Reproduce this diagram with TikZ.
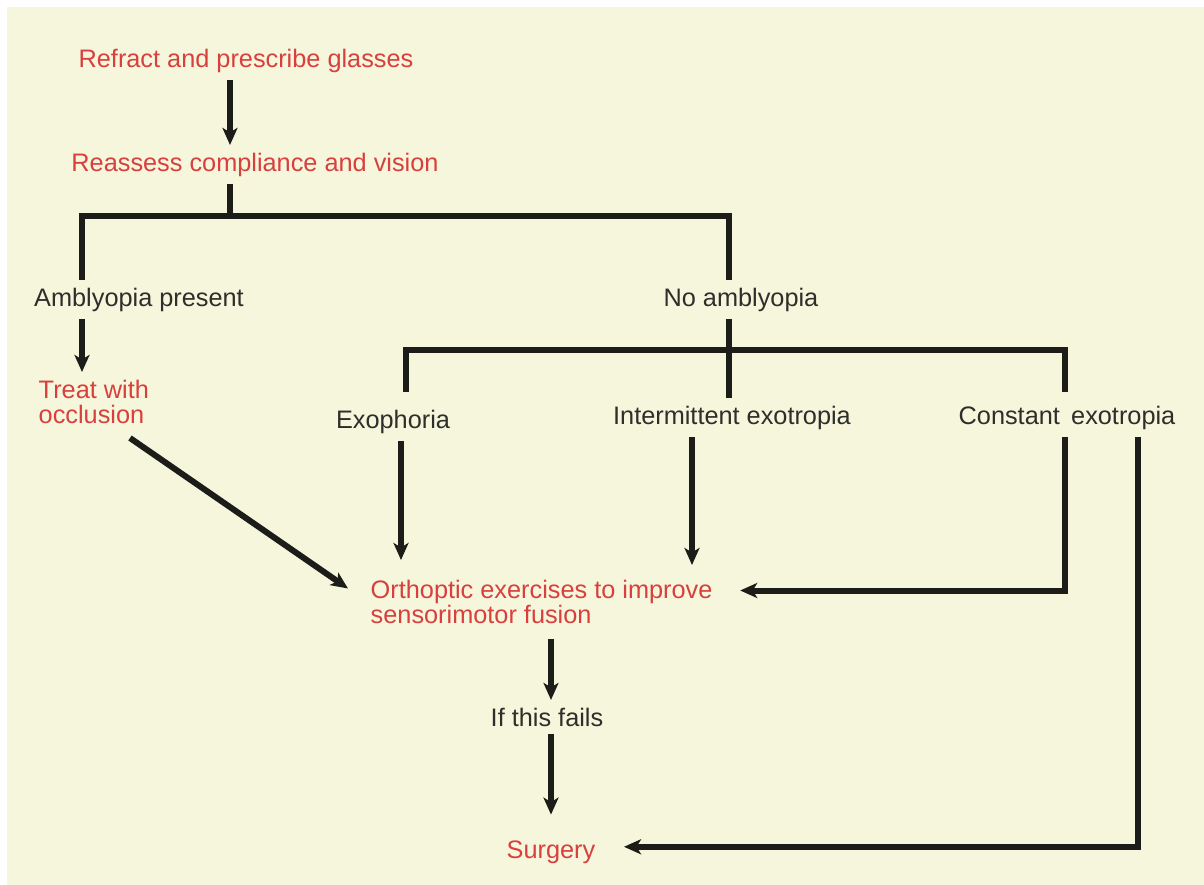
\documentclass[tikz,border=0pt]{standalone}
\usepackage{fontspec}
\setmainfont{Liberation Sans}
\usetikzlibrary{arrows.meta}

\definecolor{bgcol}{HTML}{F5F6DC}
\definecolor{redtxt}{HTML}{D8403E}
\definecolor{darktxt}{HTML}{2E2E2A}
\definecolor{linecol}{HTML}{1C1C18}

\begin{document}
\begin{tikzpicture}[
    x=0.1mm, y=-0.1mm,
    >={Stealth[length=1.7mm,width=1.5mm,inset=0.45mm]},
    lbl/.style={inner sep=2pt, font=\fontsize{7.2}{7.1}\selectfont, text=darktxt},
    act/.style={lbl, text=redtxt},
    ln/.style={line width=0.6mm, draw=linecol},
    arr/.style={ln, ->}
]
    \useasboundingbox (0,0) rectangle (1204,885);
    \fill[white] (0,0) rectangle (1204,885);
    \fill[bgcol] (7,7) rectangle (1204,885);

    % texts
    \node[act, anchor=base] (refract) at (246,67) {Refract and prescribe glasses};
    \node[act, anchor=base] (reassess) at (255,171) {Reassess compliance and vision};
    \node[lbl, anchor=base] (amb) at (139,306) {Amblyopia present};
    \node[lbl, anchor=base] (noamb) at (741,306) {No amblyopia};
    \node[act, anchor=north west, align=left] (treat) at (31,372) {Treat with\\occlusion};
    \node[lbl, anchor=base] (exo) at (393,428) {Exophoria};
    \node[lbl, anchor=base] (inter) at (732,424) {Intermittent exotropia};
    \node[lbl, anchor=base] (const) at (1067,424) {Constant\, exotropia};
    \node[act, anchor=north west, align=left] (ortho) at (363,572)
        {Orthoptic exercises to improve\\sensorimotor fusion};
    \node[lbl, anchor=base] (fails) at (547,726) {If this fails};
    \node[act, anchor=base] (surgery) at (551,858) {Surgery};

    % columns and bars
    \coordinate (xa) at (230,0);
    \coordinate (xb) at (82,0);
    \coordinate (xc) at (729,0);
    \coordinate (xe) at (406,0);
    \coordinate (xex) at (401,0);
    \coordinate (xf) at (692,0);
    \coordinate (xg) at (1065,0);
    \coordinate (xh) at (1138,0);
    \coordinate (xt) at (130,0);
    \coordinate (xs) at (551,0);
    \coordinate (bar1) at (0,216);
    \coordinate (bar2) at (0,350);

    % connectors
    \draw[arr] (refract.south -| xa) -- (reassess.north -| xa);
    \draw[ln] (reassess.south -| xa) -- (xa |- bar1);
    \draw[ln] (amb.north -| xb) |- (xc |- bar1) -- (noamb.north -| xc);
    \draw[arr] (amb.south -| xb) -- (treat.north -| xb);
    \draw[ln] (noamb.south -| xc) -- (inter.north -| xc);
    \draw[ln] ([yshift=1mm]exo.north -| xe) |- (xg |- bar2) -- ([yshift=0.6mm]const.north -| xg);
    \draw[arr] (exo.south -| xex) -- ([yshift=1.2mm]ortho.north -| xex);
    \draw[arr] (inter.south -| xf) -- ([yshift=0.7mm]ortho.north -| xf);
    \draw[arr] ([yshift=-0.7mm]treat.south -| xt) -- ([xshift=-1.5mm,yshift=1.3mm]ortho.west);
    \draw[arr] (const.south -| xg) |- ([xshift=2mm,yshift=1.1mm]ortho.east);
    \draw[arr] (const.south -| xh) |- ([xshift=2.1mm,yshift=0.5mm]surgery.east);
    \draw[arr] ([yshift=-0.8mm]ortho.south -| xs) -- (fails.north -| xs);
    \draw[arr] (fails.south -| xs) -- ([yshift=1.8mm]surgery.north -| xs);
\end{tikzpicture}
\end{document}
